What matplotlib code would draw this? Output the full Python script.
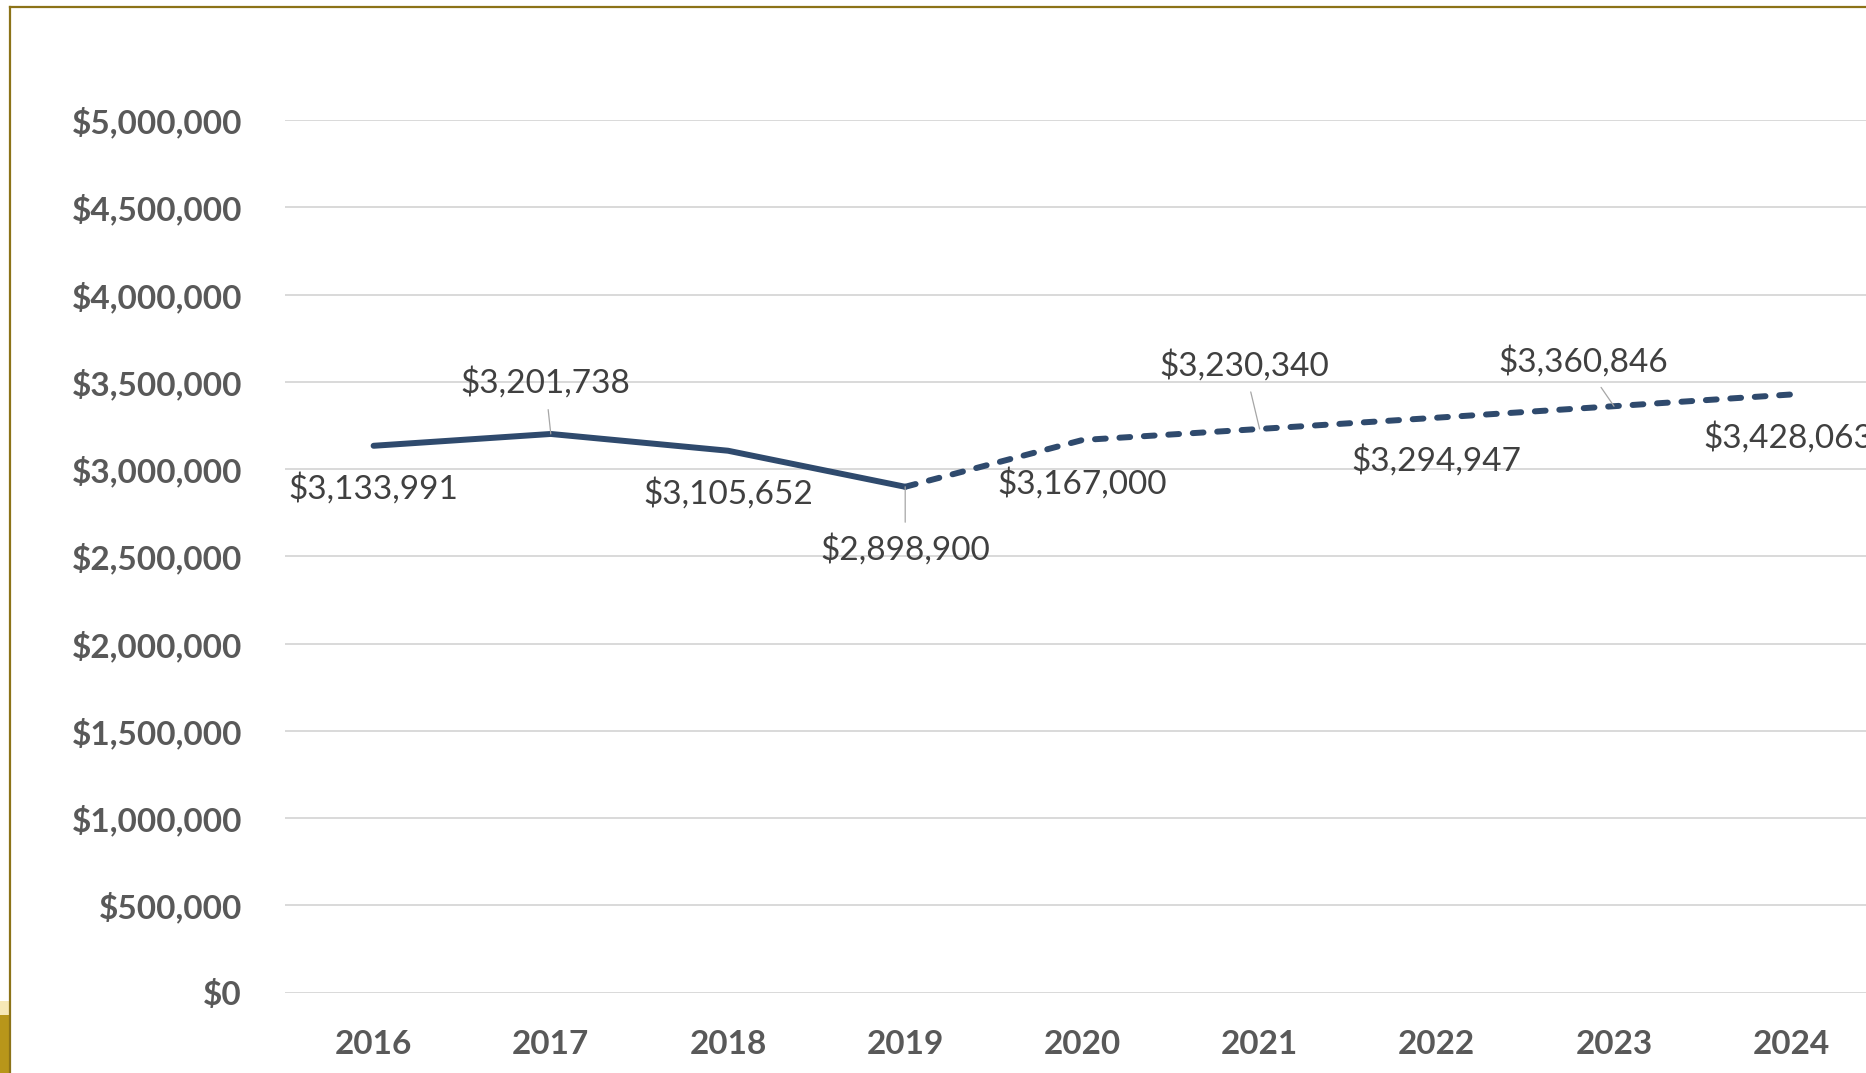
import matplotlib.pyplot as plt
from matplotlib.lines import Line2D
from matplotlib.patches import Rectangle
from matplotlib.ticker import FuncFormatter, MultipleLocator

years = ['2016', '2017', '2018', '2019', '2020', '2021', '2022', '2023', '2024']
values = [3133991, 3201738, 3105652, 2898900, 3167000, 3230340, 3294947, 3360846, 3428063]
last_actual = 3  # index of 2019, dashed after this

# label offsets in points (dx, dy) and whether a leader line is drawn
label_offsets = [(0, -31), (-4, 37), (0, -31), (0, -45), (0, -31),
                 (-11, 46), (0, -31), (-22, 32), (-2, -31)]
leaders = [False, True, False, True, False, True, False, True, False]

plt.rcParams['font.family'] = ['Lato', 'DejaVu Sans']

W, H = 1866, 1073
fig = plt.figure(figsize=(W / 100, H / 100), dpi=100)
ax = fig.add_axes([285 / W, (H - 992.6) / H, 1594.8 / W, 872.4 / H])

line_color = '#2F4A6D'
x = list(range(len(years)))
ax.plot(x[:last_actual + 1], values[:last_actual + 1], color=line_color,
        lw=4.3, solid_capstyle='round', solid_joinstyle='round', zorder=3)
ax.plot(x[last_actual:], values[last_actual:], color=line_color, lw=4.3,
        dashes=(1.8, 2.3), dash_capstyle='round', zorder=3)

for i, v in enumerate(values):
    props = None
    if leaders[i]:
        props = dict(arrowstyle='-', color='#A6A6A6', lw=0.9, shrinkA=6, shrinkB=0)
    ax.annotate(f'${v:,}', (i, v), xytext=label_offsets[i], textcoords='offset points',
                ha='center', va='center', fontsize=24, color='#404040',
                arrowprops=props, annotation_clip=False, zorder=4)

ax.set_xlim(-0.5, len(years) - 0.5)
ax.set_ylim(0, 5000000)
ax.yaxis.set_major_locator(MultipleLocator(500000))
ax.yaxis.set_major_formatter(FuncFormatter(lambda v, p: f'${v:,.0f}'))
ax.set_xticks(x)
ax.set_xticklabels(years)
ax.tick_params(length=0, labelsize=24, labelcolor='#595959')
ax.tick_params(axis='y', pad=31)
ax.tick_params(axis='x', pad=27)
for lab in ax.get_xticklabels() + ax.get_yticklabels():
    lab.set_fontweight('bold')
ax.grid(axis='y', color='#D9D9D9', lw=1.4)
ax.set_axisbelow(True)
for s in ax.spines.values():
    s.set_visible(False)

# frame and corner decoration
gold = '#8C7318'
fig.add_artist(Line2D([10 / W, 10 / W], [0, (H - 7) / H], color=gold, lw=1.6))
fig.add_artist(Line2D([10 / W, 1], [(H - 7) / H, (H - 7) / H], color=gold, lw=1.6))
fig.add_artist(Rectangle((0, (H - 1015) / H), 9 / W, 14 / H, transform=fig.transFigure,
                         color='#F7E8B6', lw=0))
fig.add_artist(Rectangle((0, 0), 9 / W, (H - 1015) / H, transform=fig.transFigure,
                         color='#B8961A', lw=0))

fig.savefig('out.png', dpi=100)
